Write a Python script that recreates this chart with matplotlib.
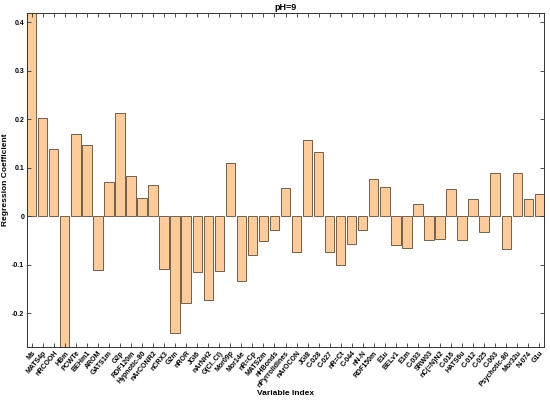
import matplotlib
matplotlib.use("Agg")
import matplotlib.pyplot as plt
import numpy as np

plt.rcParams['font.family'] = ['Liberation Sans', 'DejaVu Sans']

variables = ["Ms", "MATS4p", "nRCOOH", "HBm", "PCWTe", "BEHm1", "AROM", "GATS1m",
             "G2p", "RDF120m", "Hypnotic-80", "nArCONR2", "nCRX3", "G2m", "nROR",
             "JGI6", "nArNH2", "G(Cl..Cl)", "Mor09p", "Mor14e", "nR=Cp", "MATS2m",
             "nHBonds", "nPyrrolidines", "nArOCON", "JGI8", "C-028", "C-027", "nR=Ct",
             "C-044", "nN-N", "RDF150m", "E1u", "BELv1", "E1m", "C-033", "SRW03",
             "nC(=N)N2", "C-016", "HATS6u", "C-012", "C-025", "C-003", "Psychotic-80",
             "Mor32u", "N-074", "G1u"]
coefficients = [0.43, 0.202, 0.138, -0.28, 0.169, 0.146, -0.111, 0.071,
                0.212, 0.082, 0.037, 0.064, -0.109, -0.241, -0.180,
                -0.116, -0.174, -0.114, 0.110, -0.134, -0.080, -0.052,
                -0.028, 0.057, -0.074, 0.156, 0.132, -0.074, -0.100,
                -0.057, -0.028, 0.076, 0.060, -0.059, -0.065, 0.026, -0.050,
                -0.047, 0.055, -0.050, 0.036, -0.033, 0.088, -0.067,
                0.089, 0.036, 0.046]

fig = plt.figure(figsize=(5.5, 4.0), dpi=100)
ax = fig.add_axes([27/550, 1 - 347/400, (544-27)/550, (347-13)/400])

x = np.arange(1, len(variables) + 1)
w = 0.85
ax.bar(x, coefficients, width=w, color='#FFCC99', edgecolor='#5a4a3a', linewidth=0.6)

ax.set_xlim(1 - w/2, len(variables) + w/2)
ax.set_ylim(-0.27, 0.419)
ax.set_yticks([-0.2, -0.1, 0, 0.1, 0.2, 0.3, 0.4])
ax.set_yticklabels(["-0.2", "-0.1", "0", "0.1", "0.2", "0.3", "0.4"])
ax.set_xticks(x)
ax.set_xticklabels(variables, rotation=50, ha='right', rotation_mode='anchor')

ax.tick_params(axis='both', direction='in', top=True, right=True, length=3,
               width=0.6, color='#333333', labelsize=5, pad=2)
for lab in ax.get_xticklabels() + ax.get_yticklabels():
    lab.set_fontweight('bold')
for s in ax.spines.values():
    s.set_linewidth(0.7)
    s.set_color('#333333')

ax.set_title("pH=9", fontsize=6.5, fontweight='bold', pad=2)
ax.set_ylabel("Regression Coefficient", fontsize=6, fontweight='bold')
ax.yaxis.set_label_coords(-0.034, 0.5)
ax.set_xlabel("Variable Index", fontsize=6, fontweight='bold', labelpad=1)

fig.savefig("out.png", dpi=100)
